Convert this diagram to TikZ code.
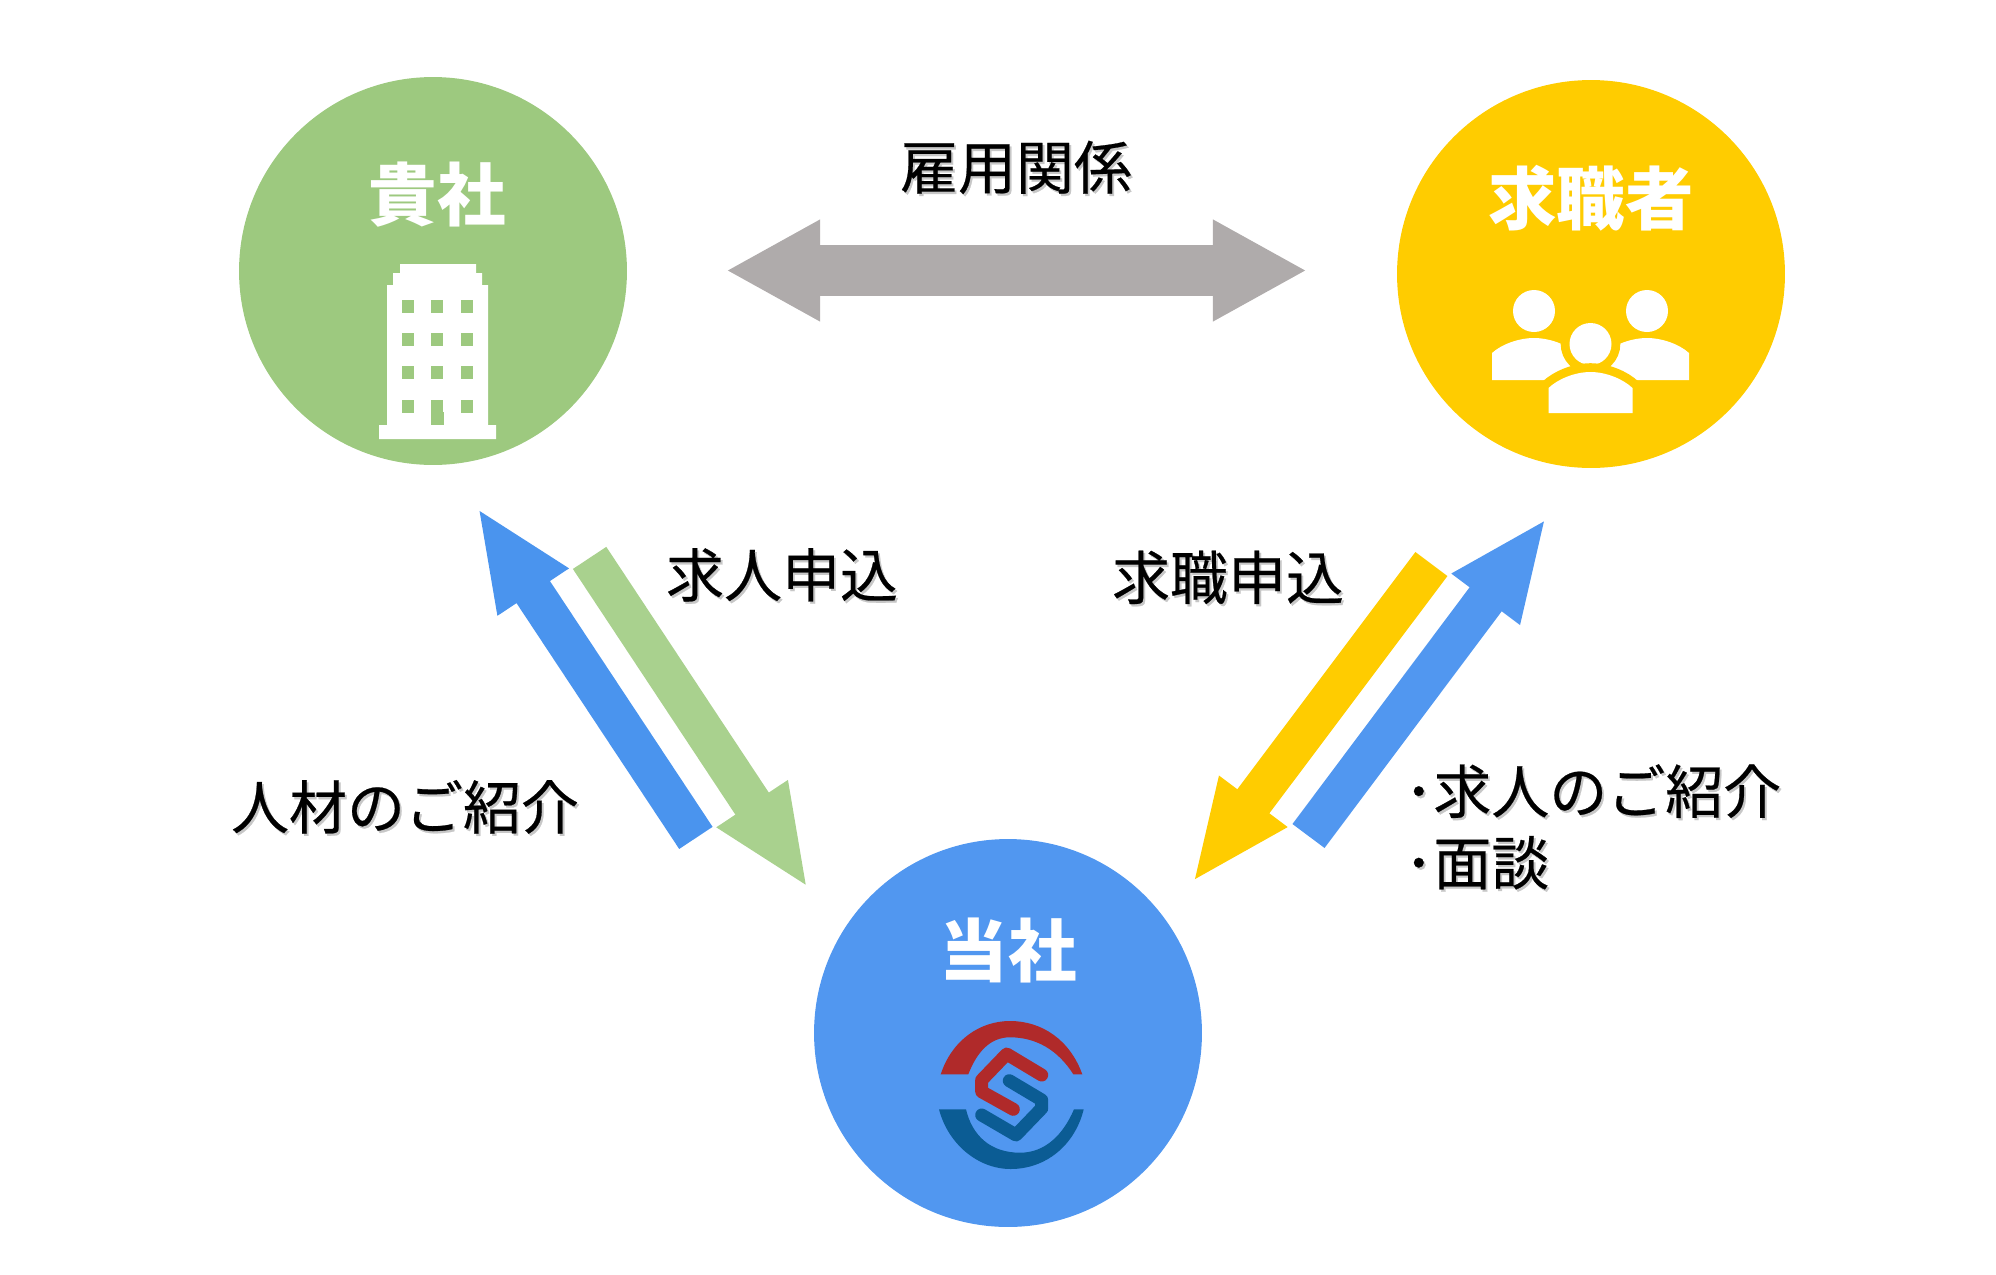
\documentclass[tikz,border=0pt]{standalone}
\usepackage{fontspec}
\setmainfont[FakeBold=0.4]{Noto Sans CJK JP}
\newfontfamily\titlefont{Noto Sans CJK JP}
\usepackage{xcolor}
\usetikzlibrary{arrows.meta,positioning,calc}
\definecolor{clientgreen}{HTML}{9DC97F}
\definecolor{seekeryellow}{HTML}{FFCC00}
\definecolor{agentblue}{HTML}{5197F0}
\definecolor{introblue}{HTML}{4A94EE}
\definecolor{offergreen}{HTML}{A9D18E}
\definecolor{linkgray}{HTML}{AFABAB}
\definecolor{logored}{HTML}{B02A2A}
\definecolor{logoblue}{HTML}{0B5C94}
\newcommand{\softshadow}[1]{\rlap{\kern1.1pt\raisebox{-1.3pt}{\textcolor{black!22}{#1}}}#1}
\tikzset{
  party/.style={circle,inner sep=0pt,minimum size=7.76cm},
  partytitle/.style={inner sep=0pt,text=white,font=\fontsize{39}{47}\titlefont\bfseries},
  flowlabel/.style={inner sep=0pt,text=black,font=\fontsize{33}{40.7}\selectfont},
  flowarrow/.style={line width=22.8pt,-{Triangle[length=57.8pt,width=44pt]}},
  linkarrow/.style={line width=29pt,linkgray,
                    {Triangle[length=53.6pt,width=54pt]}-{Triangle[length=53.6pt,width=54pt]}},
  logostroke/.style={line width=7.4pt,line cap=round,line join=round},
  gapped/.style={fill=white,preaction={draw=seekeryellow,line width=10pt}}
}
\begin{document}
\begin{tikzpicture}[x=0.02cm,y=-0.02cm]

  \useasboundingbox (0,0) rectangle (1996,1275);

  \node[party,fill=clientgreen]  (client) at (433,271) {};
  \node[party,fill=seekeryellow] (seeker) at (1591,274) {};
  \node[party,fill=agentblue]    (agent)  at (1008,1033) {};

  \node[partytitle] (clienttitle) at (437,195) {貴社};
  \node[partytitle] (seekertitle) at (1591,198) {求職者};
  \node[partytitle] (agenttitle)  at (1008,950) {当社};

  % building
  \fill[white] (379,439) -- (379,425) -- (387,425) -- (387,285) -- (393,285) -- (393,273)
    -- (400,273) -- (400,264) -- (476,264) -- (476,273) -- (482,273) -- (482,285)
    -- (488,285) -- (488,425) -- (496,425) -- (496,439) -- cycle;
  \foreach \wx in {402,431,461}
    \foreach \wy in {300,333,366,400}
      \fill[clientgreen] (\wx,\wy) rectangle ++(12,12.5);
  \fill[clientgreen] (431,412) rectangle (443.5,425);

  % people
  \foreach \px in {1534,1647} {
    \fill[white] (\px,311) circle (21);
    \fill[white] (\px-42,380) -- (\px-42,353) .. controls (\px-32,344) and (\px-15,338) .. (\px,338)
      .. controls (\px+15,338) and (\px+32,344) .. (\px+42,353) -- (\px+42,380) -- cycle;
  }
  \path[gapped] (1590.5,344) circle (21);
  \path[gapped] (1548.5,413) -- (1548.5,388)
    .. controls (1558,379) and (1575,372) .. (1590.5,372)
    .. controls (1606,372) and (1623,379) .. (1632.5,388) -- (1632.5,413) -- cycle;

  % logo
  \fill[logored] (940.7,1074.3) .. controls (952,1040) and (980,1021) .. (1010,1021)
    .. controls (1042,1021) and (1070,1040) .. (1082.3,1074.3) -- (1073.3,1074.3)
    .. controls (1058,1050) and (1036,1037.3) .. (1010,1037.3)
    .. controls (990,1037.3) and (977,1052) .. (968.3,1074.3) -- cycle;
  \fill[logoblue] (939,1109.3) .. controls (948,1144) and (978,1169) .. (1010.7,1169)
    .. controls (1046,1169) and (1075,1145) .. (1083.7,1109.3) -- (1074,1109.3)
    .. controls (1063,1135) and (1045,1152.7) .. (1020,1152.7)
    .. controls (990,1152.7) and (972,1135) .. (966,1109.3) -- cycle;
  \draw[logostroke,logored] (1041.7,1075) -- (1006.7,1054) -- (981.7,1080) -- (981.7,1091.7) -- (1013.3,1109.3);
  \draw[logostroke,logoblue] (1009.3,1080.7) -- (1041.7,1100) -- (1041.7,1108.3) -- (1016,1135) -- (981.7,1115);

  % arrows
  \coordinate (linkleft)   at (726,270.5);
  \coordinate (linkright)  at (1307,270.5);
  \coordinate (introtail)  at (695.9,837.9);
  \coordinate (introtip)   at (477.2,507.4);
  \coordinate (offertail)  at (589.6,557.9);
  \coordinate (offertip)   at (808.1,888.3);
  \coordinate (applytail)  at (1431.4,564);
  \coordinate (applytip)   at (1192.4,882.5);
  \coordinate (jobtail)    at (1308.5,836);
  \coordinate (jobtip)     at (1546.5,518);

  \draw[linkarrow] (linkleft) -- (linkright);
  \draw[flowarrow,introblue]    (introtail) -- (introtip);
  \draw[flowarrow,offergreen]   (offertail) -- (offertip);
  \draw[flowarrow,seekeryellow] (applytail) -- (applytip);
  \draw[flowarrow,agentblue]    (jobtail) -- (jobtip);

  \node[flowlabel] (linklabel)  at (1016,168.5) {\softshadow{雇用関係}};
  \node[flowlabel] (offerlabel) at (782,576)  {\softshadow{求人申込}};
  \node[flowlabel] (applylabel) at (1228,578.5) {\softshadow{求職申込}};
  \node[flowlabel] (introlabel) at (405,808)  {\softshadow{人材のご紹介}};
  \node[flowlabel,anchor=west,align=left] (joblabel) at (1404,828)
    {\softshadow{･求人のご紹介}\\\softshadow{･面談}};

\end{tikzpicture}
\end{document}
